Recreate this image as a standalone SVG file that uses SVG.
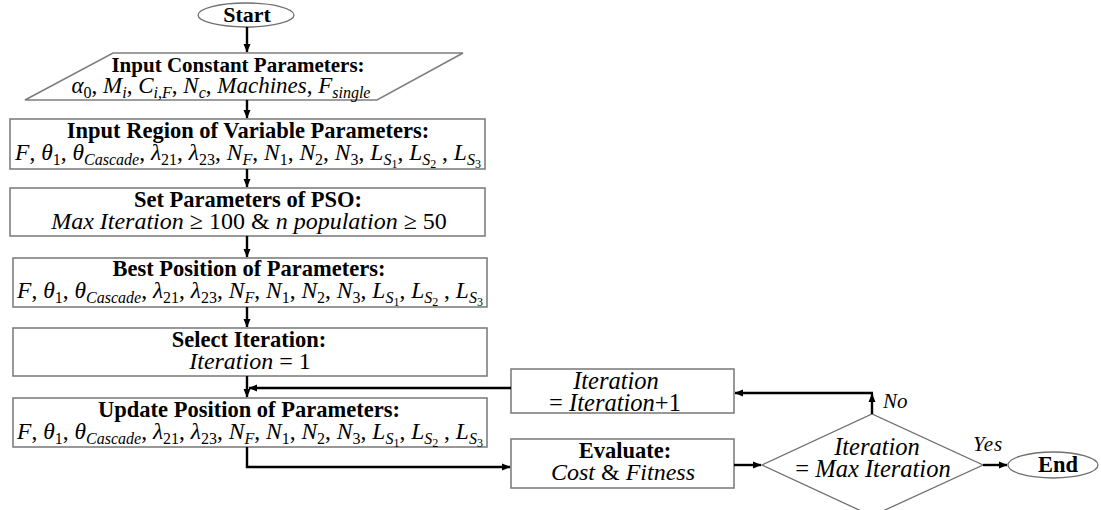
<svg xmlns="http://www.w3.org/2000/svg" width="1101" height="510" viewBox="0 0 1101 510">
<defs>
<marker id="ah" markerWidth="9" markerHeight="9" refX="8" refY="4.5" orient="auto" markerUnits="userSpaceOnUse">
<path d="M0,1 L8.5,4.5 L0,8 Z" fill="#000"/>
</marker>
<style>
.bx{fill:#fff;stroke:#7f7f7f;stroke-width:1.6}
.sh{fill:#fff;stroke:#6f6f6f;stroke-width:1.3}
.t{font-family:"Liberation Serif",serif;font-weight:bold;font-size:22.5px;text-anchor:middle;fill:#000}
.m{font-family:"Liberation Serif",serif;font-style:italic;font-size:24px;text-anchor:middle;fill:#000}
.mf{font-family:"Liberation Serif",serif;font-style:italic;font-size:23.5px;text-anchor:middle;fill:#000}
.l{font-family:"Liberation Serif",serif;font-style:italic;font-size:21px;fill:#000}
.u{font-style:normal}
.s{font-size:16px}
.ss{font-size:12px}
.c{fill:none;stroke:#000;stroke-width:2.4}
</style>
</defs>
<rect width="1101" height="510" fill="#fff"/>

<g id="start">
<ellipse class="sh" cx="246" cy="15" rx="48" ry="12"/>
<text class="t" x="247" y="22" style="font-size:22px">Start</text>
</g>

<g id="input-constant">
<polygon class="bx" points="113,53 463,53 377,100 25,100"/>
<text class="t" x="238" y="72" style="font-size:21px">Input Constant Parameters:</text>
<text class="mf" x="221" y="93" style="font-size:23px">α<tspan class="s u" dy="5">0</tspan><tspan class="u" dy="-5">, </tspan>M<tspan class="s" dy="5">i</tspan><tspan class="u" dy="-5">, </tspan>C<tspan class="s" dy="5">i<tspan class="u">,</tspan>F</tspan><tspan class="u" dy="-5">, </tspan>N<tspan class="s" dy="5">c</tspan><tspan class="u" dy="-5">, </tspan>Machines<tspan class="u">, </tspan>F<tspan class="s" dy="5">single</tspan></text>
</g>

<g id="input-region">
<rect class="bx" x="10" y="119" width="475" height="50"/>
<text class="t" x="248" y="138">Input Region of Variable Parameters:</text>
<text class="mf" x="248" y="160">F<tspan class="u">, </tspan>θ<tspan class="s u" dy="5">1</tspan><tspan class="u" dy="-5">, </tspan>θ<tspan class="s" dy="5">Cascade</tspan><tspan class="u" dy="-5">, </tspan>λ<tspan class="s u" dy="5">21</tspan><tspan class="u" dy="-5">, </tspan>λ<tspan class="s u" dy="5">23</tspan><tspan class="u" dy="-5">, </tspan>N<tspan class="s" dy="5">F</tspan><tspan class="u" dy="-5">, </tspan>N<tspan class="s u" dy="5">1</tspan><tspan class="u" dy="-5">, </tspan>N<tspan class="s u" dy="5">2</tspan><tspan class="u" dy="-5">, </tspan>N<tspan class="s u" dy="5">3</tspan><tspan class="u" dy="-5">, </tspan>L<tspan class="s" dy="5">S</tspan><tspan class="ss u" dy="3">1</tspan><tspan class="u" dy="-8">, </tspan>L<tspan class="s" dy="5">S</tspan><tspan class="ss u" dy="3">2</tspan><tspan class="u" dy="-8"> , </tspan>L<tspan class="s" dy="5">S</tspan><tspan class="ss u" dy="3">3</tspan></text>
</g>

<g id="pso">
<rect class="bx" x="10" y="188" width="475" height="48"/>
<text class="t" x="248" y="207">Set Parameters of PSO:</text>
<text class="m" x="249" y="229">Max Iteration <tspan class="u">≥ 100 &amp; </tspan>n population <tspan class="u">≥ 50</tspan></text>
</g>

<g id="best-position">
<rect class="bx" x="13" y="258" width="474" height="49"/>
<text class="t" x="249" y="276">Best Position of Parameters:</text>
<text class="mf" x="250" y="298">F<tspan class="u">, </tspan>θ<tspan class="s u" dy="5">1</tspan><tspan class="u" dy="-5">, </tspan>θ<tspan class="s" dy="5">Cascade</tspan><tspan class="u" dy="-5">, </tspan>λ<tspan class="s u" dy="5">21</tspan><tspan class="u" dy="-5">, </tspan>λ<tspan class="s u" dy="5">23</tspan><tspan class="u" dy="-5">, </tspan>N<tspan class="s" dy="5">F</tspan><tspan class="u" dy="-5">, </tspan>N<tspan class="s u" dy="5">1</tspan><tspan class="u" dy="-5">, </tspan>N<tspan class="s u" dy="5">2</tspan><tspan class="u" dy="-5">, </tspan>N<tspan class="s u" dy="5">3</tspan><tspan class="u" dy="-5">, </tspan>L<tspan class="s" dy="5">S</tspan><tspan class="ss u" dy="3">1</tspan><tspan class="u" dy="-8">, </tspan>L<tspan class="s" dy="5">S</tspan><tspan class="ss u" dy="3">2</tspan><tspan class="u" dy="-8"> , </tspan>L<tspan class="s" dy="5">S</tspan><tspan class="ss u" dy="3">3</tspan></text>
</g>

<g id="select-iteration">
<rect class="bx" x="13" y="328" width="474" height="48"/>
<text class="t" x="249" y="347">Select Iteration:</text>
<text class="m" x="250" y="369">Iteration <tspan class="u">= 1</tspan></text>
</g>

<g id="update-position">
<rect class="bx" x="13" y="398" width="474" height="49"/>
<text class="t" x="249" y="417">Update Position of Parameters:</text>
<text class="mf" x="250" y="439">F<tspan class="u">, </tspan>θ<tspan class="s u" dy="5">1</tspan><tspan class="u" dy="-5">, </tspan>θ<tspan class="s" dy="5">Cascade</tspan><tspan class="u" dy="-5">, </tspan>λ<tspan class="s u" dy="5">21</tspan><tspan class="u" dy="-5">, </tspan>λ<tspan class="s u" dy="5">23</tspan><tspan class="u" dy="-5">, </tspan>N<tspan class="s" dy="5">F</tspan><tspan class="u" dy="-5">, </tspan>N<tspan class="s u" dy="5">1</tspan><tspan class="u" dy="-5">, </tspan>N<tspan class="s u" dy="5">2</tspan><tspan class="u" dy="-5">, </tspan>N<tspan class="s u" dy="5">3</tspan><tspan class="u" dy="-5">, </tspan>L<tspan class="s" dy="5">S</tspan><tspan class="ss u" dy="3">1</tspan><tspan class="u" dy="-8">, </tspan>L<tspan class="s" dy="5">S</tspan><tspan class="ss u" dy="3">2</tspan><tspan class="u" dy="-8"> , </tspan>L<tspan class="s" dy="5">S</tspan><tspan class="ss u" dy="3">3</tspan></text>
</g>

<g id="increment">
<rect class="bx" x="511" y="369" width="223" height="44"/>
<text class="m" x="616" y="389" style="font-size:24.5px">Iteration</text>
<text class="m" x="615" y="411" style="font-size:24.5px"><tspan class="u">= </tspan>Iteration<tspan class="u">+1</tspan></text>
</g>

<g id="evaluate">
<rect class="bx" x="511" y="439" width="223" height="49"/>
<text class="t" x="625" y="458">Evaluate:</text>
<text class="m" x="623" y="480">Cost <tspan class="u">&amp;</tspan> Fitness</text>
</g>

<g id="decision">
<polygon class="sh" points="762,465 872,414 983,465 872,516"/>
<text class="m" x="877" y="455" style="font-size:24.5px">Iteration</text>
<text class="m" x="873" y="477" style="font-size:24.5px"><tspan class="u">= </tspan>Max Iteration</text>
</g>

<g id="end">
<ellipse class="sh" cx="1053" cy="465" rx="45" ry="13"/>
<text class="t" x="1058" y="472">End</text>
</g>

<g id="connectors">
<line class="c" x1="247" y1="27" x2="247" y2="52" marker-end="url(#ah)"/>
<line class="c" x1="247" y1="100" x2="247" y2="118" marker-end="url(#ah)"/>
<line class="c" x1="247" y1="169" x2="247" y2="187" marker-end="url(#ah)"/>
<line class="c" x1="247" y1="236" x2="247" y2="257" marker-end="url(#ah)"/>
<line class="c" x1="247" y1="307" x2="247" y2="327" marker-end="url(#ah)"/>
<line class="c" x1="247" y1="376" x2="247" y2="397" marker-end="url(#ah)"/>
<line class="c" x1="511" y1="388" x2="249" y2="388" marker-end="url(#ah)"/>
<polyline class="c" points="247,447 247,467 510,467" marker-end="url(#ah)"/>
<line class="c" x1="734" y1="465" x2="761" y2="465" marker-end="url(#ah)"/>
<line class="c" x1="872" y1="414" x2="872" y2="394" marker-end="url(#ah)"/>
<line class="c" x1="873" y1="393" x2="735" y2="393" marker-end="url(#ah)"/>
<line class="c" x1="983" y1="465" x2="1007" y2="465" marker-end="url(#ah)"/>
<text class="l" x="883" y="408">No</text>
<text class="l" x="973" y="451" style="letter-spacing:1px">Yes</text>
</g>
</svg>
